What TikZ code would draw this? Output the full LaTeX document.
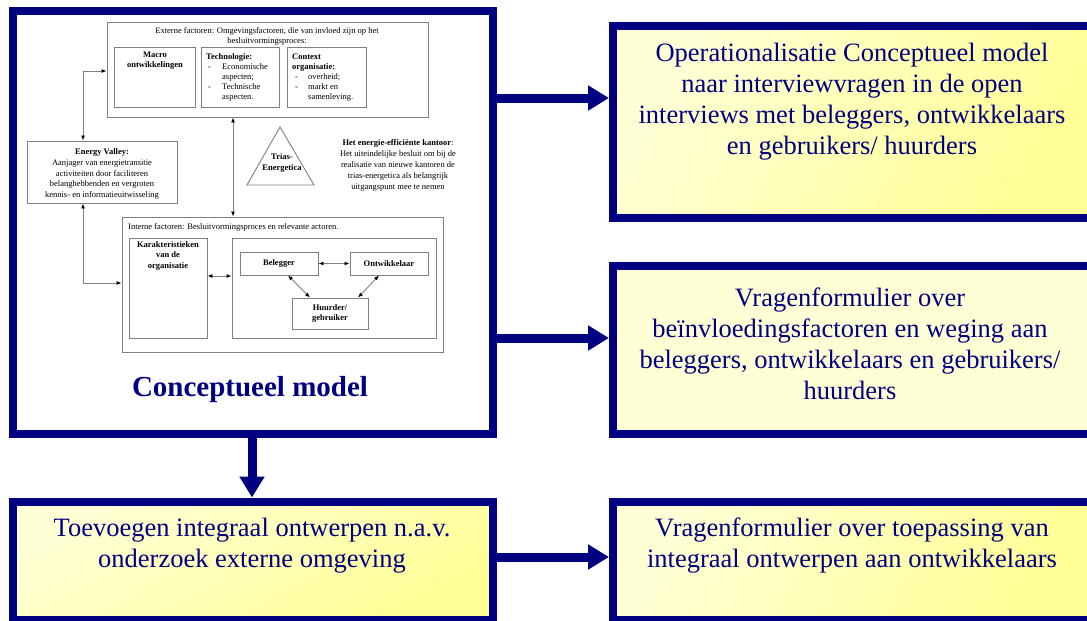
\documentclass[tikz,border=0pt]{standalone}
\usepackage{fontspec}
\setmainfont{Liberation Serif}
\usetikzlibrary{arrows.meta}
\definecolor{navy}{RGB}{0,0,128}
\definecolor{paleyellow}{RGB}{255,255,214}
\definecolor{deepyellow}{RGB}{255,255,150}
\definecolor{linegray}{RGB}{128,128,128}
\begin{document}
\begin{tikzpicture}[x=1pt,y=-1pt,
  bigbox/.style={draw=navy, line width=8pt, inner sep=0pt},
  bigarrow/.style={draw=navy, line width=9pt, -{Triangle[length=21pt,width=24pt]}},
  bigtext/.style={text=navy, align=center, inner sep=0pt, font=\fontsize{26.5}{31}\selectfont},
  ibox/.style={draw=linegray, line width=0.9pt, inner sep=0pt},
  itext/.style={inner sep=0pt, align=center, font=\fontsize{8.5}{10.8}\selectfont},
  iarrow/.style={draw=linegray, line width=0.9pt,
    {Latex[length=5pt,width=4pt,color=black]}-{Latex[length=5pt,width=4pt,color=black]}},
]
\useasboundingbox (0,0) rectangle (1087,621);
\clip (0,0) rectangle (1087,621);
\fill[white] (0,0) rectangle (1087,621);

% ---- main boxes ----
\node[bigbox, fill=white, minimum width=480.5pt, minimum height=423pt] (concept) at (252.75,222) {};
\node[bigbox, left color=deepyellow, right color=paleyellow, shading angle=210,
      minimum width=480pt, minimum height=118.5pt] (extra) at (253,560.75) {};
\node[bigbox, left color=paleyellow, right color=deepyellow, shading angle=60,
      minimum width=478pt, minimum height=192pt] (oper) at (852,122) {};
\node[bigbox, left color=paleyellow, middle color=deepyellow, right color=paleyellow, shading angle=70,
      minimum width=478pt, minimum height=168pt] (weging) at (852,350) {};
\node[bigbox, left color=paleyellow, right color=deepyellow, shading angle=60,
      minimum width=478pt, minimum height=118.5pt] (toepas) at (852,560.75) {};

% ---- texts of the main boxes ----
\node[bigtext] (operT) at (852,101.5) {Operationalisatie Conceptueel model\\naar interviewvragen in de open\\interviews met beleggers, ontwikkelaars\\en gebruikers/ huurders};
\node[bigtext] (wegingT) at (850,343.5) {Vragenformulier over\\beïnvloedingsfactoren en weging aan\\beleggers, ontwikkelaars en gebruikers/\\huurders};
\node[bigtext] (toepasT) at (852,545.5) {Vragenformulier over toepassing van\\integraal ontwerpen aan ontwikkelaars};
\node[bigtext] (extraT) at (252,545.5) {Toevoegen integraal ontwerpen n.a.v.\\onderzoek externe omgeving};
\node[text=navy, inner sep=0pt, font=\fontsize{29}{34}\selectfont\bfseries] (conceptT) at (250,390) {Conceptueel model};

% ---- main connectors ----
\coordinate (ya) at (0,98);
\coordinate (yb) at (0,338);
\coordinate (yc) at (0,557);
\coordinate (xd) at (252,0);
\draw[bigarrow] (concept.east |- ya) -- (oper.west |- ya);
\draw[bigarrow] (concept.east |- yb) -- (weging.west |- yb);
\draw[bigarrow] (extra.east |- yc) -- (toepas.west |- yc);
\draw[bigarrow] (xd |- concept.south) -- (xd |- extra.north);

% ---- conceptual model: external factors ----
\node[ibox, minimum width=321pt, minimum height=95pt] (ext) at (267.5,69.5) {};
\node[itext] (extT) at (267,36.5) {Externe factoren: Omgevingsfactoren, die van invloed zijn op het\\besluitvormingsproces:};
\node[ibox, minimum width=81pt, minimum height=60pt] (macro) at (154.5,77) {};
\node[itext, font=\fontsize{8.5}{10}\selectfont\bfseries] (macroT) at (155,61) {Macro\\ontwikkelingen};
\node[ibox, minimum width=78pt, minimum height=60pt] (tech) at (240,77) {};
\node[itext, anchor=north west, font=\fontsize{8.5}{10}\selectfont] (techT) at (206,52)
  {\begin{tabular}{@{}p{16pt}@{}l@{}}\multicolumn{2}{@{}l@{}}{\textbf{Technologie:}}\\
   \hspace{2pt}- & Economische\\ & aspecten;\\ \hspace{2pt}- & Technische\\ & aspecten.\end{tabular}};
\node[ibox, minimum width=79pt, minimum height=60pt] (ctx) at (326.5,77) {};
\node[itext, anchor=north west, font=\fontsize{8.5}{10}\selectfont] (ctxT) at (292,52)
  {\begin{tabular}{@{}p{16pt}@{}l@{}}\multicolumn{2}{@{}l@{}}{\textbf{Context}}\\
   \multicolumn{2}{@{}l@{}}{\textbf{organisatie:}}\\
   \hspace{3pt}- & overheid;\\ \hspace{3pt}- & markt en\\ & samenleving.\end{tabular}};

% ---- Energy Valley ----
\node[ibox, minimum width=150pt, minimum height=62pt] (ev) at (102,172) {};
\node[itext] (evT) at (102,174) {\textbf{Energy Valley:}\\Aanjager van energietransitie\\activiteiten door faciliteren\\belanghebbenden en vergroten\\kennis- en informatieuitwisseling};

% ---- Trias Energetica ----
\coordinate (tA) at (280,127);
\coordinate (tB) at (247,185);
\coordinate (tC) at (314,185);
\draw[linegray, line width=0.9pt, line join=miter] (tA) -- (tB) -- (tC) -- cycle;
\node[itext, font=\fontsize{8.5}{11}\selectfont\bfseries] (trias) at (282,163) {Trias-\\Energetica};
\node[itext, font=\fontsize{8.5}{11}\selectfont] (kantoor) at (398,165.5) {\textbf{Het energie-efficiënte kantoor}:\\Het uiteindelijke besluit om bij de\\realisatie van nieuwe kantoren de\\trias-energetica als belangrijk\\uitgangspunt mee te nemen};

% ---- internal factors ----
\node[ibox, minimum width=321pt, minimum height=135pt] (int) at (282.5,284.5) {};
\node[itext, anchor=west] (intT) at (128,227) {Interne factoren: Besluitvormingsproces en relevante actoren.};
\node[ibox, minimum width=78pt, minimum height=100pt] (kar) at (168,288) {};
\node[itext, font=\fontsize{8.5}{10.5}\selectfont\bfseries] (karT) at (168,255.5) {Karakteristieken\\van de\\organisatie};
\node[ibox, minimum width=204pt, minimum height=100pt] (act) at (334,288) {};
\node[ibox, minimum width=78pt, minimum height=23pt, font=\fontsize{8.5}{10}\selectfont\bfseries] (bel) at (279,263.5) {Belegger};
\node[ibox, minimum width=78pt, minimum height=23pt, font=\fontsize{8.5}{10}\selectfont\bfseries] (ont) at (389,263.5) {Ontwikkelaar};
\node[ibox, minimum width=76pt, minimum height=31pt, align=center, font=\fontsize{8.5}{10}\selectfont\bfseries] (huu) at (330,313.5) {Huurder/\\gebruiker};

% ---- internal connectors ----
\coordinate (c1) at (83,71);
\coordinate (c2) at (83,283);
\coordinate (xv) at (233,0);
\draw[iarrow] (ext.west |- c1) -- (c1) -- (c1 |- ev.north);
\draw[iarrow] (c2 |- ev.south) -- (c2) -- (int.west |- c2);
\draw[iarrow] (xv |- ext.south) -- (xv |- int.north);
\coordinate (ks) at ([yshift=12pt]kar.east);
\draw[iarrow] (ks) -- (ks -| act.west);
\draw[iarrow] (bel.east) -- (ont.west);
\draw[iarrow] ([xshift=9pt]bel.south) -- ([xshift=-20pt]huu.north);
\draw[iarrow] ([xshift=-10pt]ont.south) -- ([xshift=28pt]huu.north);
\end{tikzpicture}
\end{document}
